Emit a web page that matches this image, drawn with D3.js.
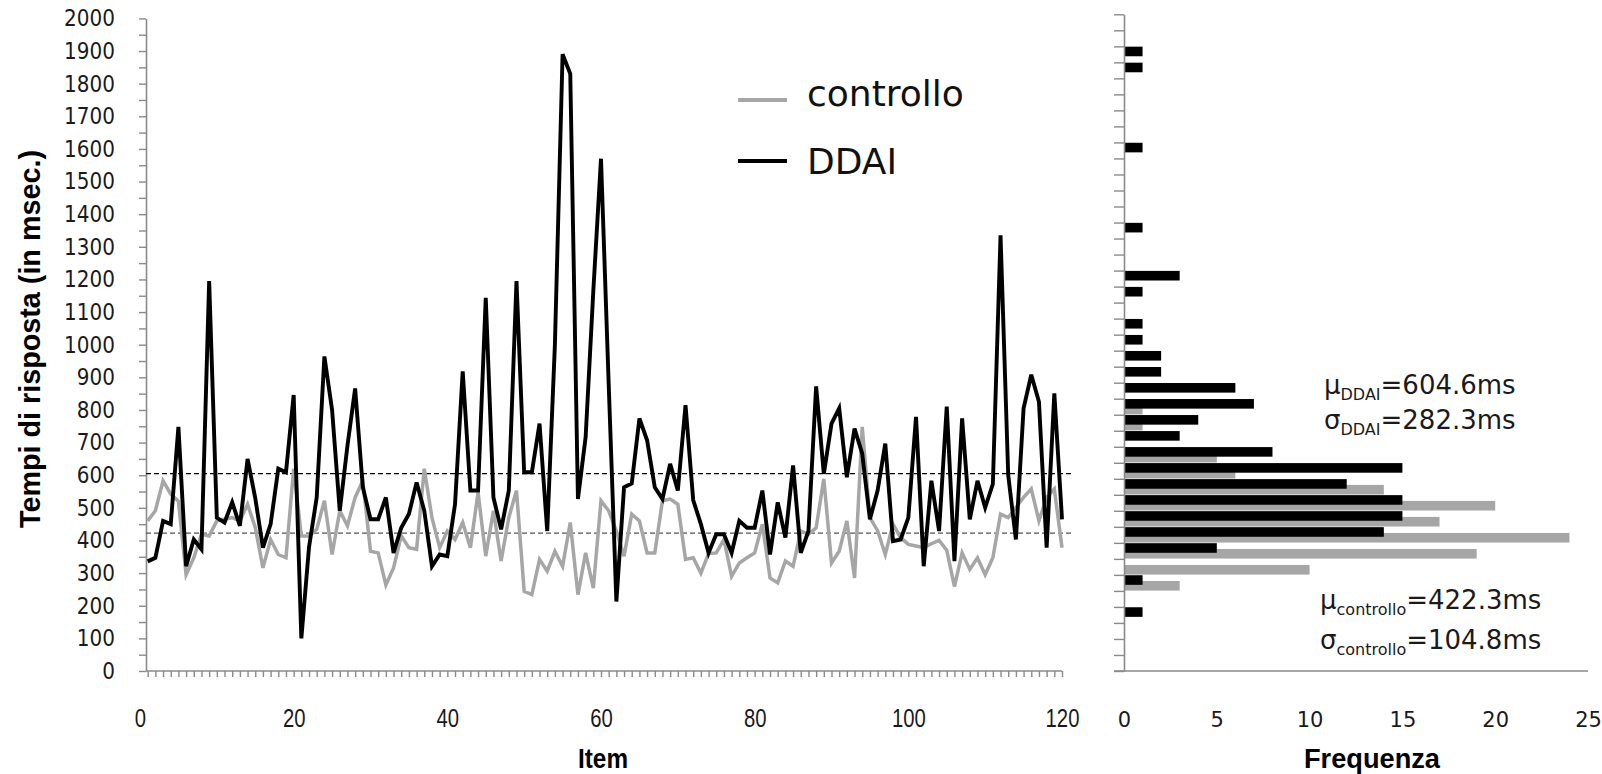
<!DOCTYPE html>
<html>
<head>
<meta charset="utf-8">
<script src="https://cdn.jsdelivr.net/npm/d3@7"></script>
<style>
body { margin: 0; background: #fff; }
svg { display: block; }
</style>
</head>
<body>
<svg width="1602" height="774"></svg>
<script>
// response times per item (ms)
var ddai = [336, 347, 460, 450, 748, 321, 403, 373, 1195, 470,
    455, 517, 445, 650, 530, 378, 450, 620, 609, 846,
    100, 380, 532, 964, 800, 491, 690, 866, 563, 465,
    465, 532, 362, 439, 481, 578, 491, 321, 357, 352,
    511, 918, 553, 553, 1144, 532, 434, 553, 1195, 609,
    609, 758, 429, 1000, 1890, 1830, 527, 717, 1165, 1570,
    880, 213, 563, 575, 774, 707, 563, 527, 635, 553,
    815, 524, 450, 362, 419, 419, 362, 460, 439, 439,
    553, 357, 517, 409, 630, 362, 429, 872, 604, 758,
    805, 594, 743, 666, 465, 553, 697, 398, 403, 470,
    779, 321, 583, 429, 810, 337, 774, 465, 583, 501,
    573, 1335, 600, 403, 805, 908, 825, 378, 851, 465];

var controllo = [460, 491, 583, 542, 520, 295, 347, 419, 414, 460,
    465, 470, 460, 511, 440, 316, 403, 357, 347, 620,
    414, 414, 434, 522, 357, 491, 445, 532, 583, 367,
    362, 264, 316, 414, 378, 373, 620, 470, 378, 429,
    403, 455, 378, 547, 352, 491, 337, 470, 553, 244,
    234, 342, 306, 367, 321, 455, 234, 362, 254, 522,
    491, 429, 352, 481, 460, 362, 362, 522, 527, 511,
    342, 347, 300, 360, 362, 403, 290, 331, 347, 362,
    450, 285, 270, 337, 321, 429, 419, 439, 589, 331,
    367, 460, 285, 748, 470, 430, 357, 450, 409, 388,
    383, 378, 390, 400, 370, 259, 362, 311, 347, 295,
    347, 481, 470, 501, 532, 558, 460, 532, 558, 378];

var itemLabels = [0, 20, 40, 60, 80, 100, 120];
var meanDDAI = 604.6, sdDDAI = 282.3;
var meanControllo = 422.3, sdControllo = 104.8;

// histogram (bin lower bound in ms, frequency)
var histBins = [150, 250, 300, 350, 400, 450, 500, 550, 600, 650, 700, 750,
    800, 850, 900, 950, 1000, 1050, 1150, 1200, 1350, 1600, 1850, 1900];
var histDDAI = [1, 1, 0, 5, 14, 15, 15, 12, 15, 8, 3, 4,
    7, 6, 2, 2, 1, 1, 1, 3, 1, 1, 1, 1];
var histControllo = [0, 3, 10, 19, 24, 17, 20, 14, 6, 5, 0, 1,
    1, 0, 0, 0, 0, 0, 0, 0, 0, 0, 0, 0];
var freqLabels = [0, 5, 10, 15, 20, 25];

var axisColor = "#8a8a8a";
var grey = "#a6a6a6";

var svg = d3.select("svg");

var x = d3.scaleLinear().domain([0, 120]).range([140, 1062]);
var y = d3.scaleLinear().domain([0, 2000]).range([671, 18.4]);

function styleAxis(g) {
    g.select(".domain").attr("stroke", axisColor).attr("stroke-width", 1.6);
    g.selectAll(".tick line").attr("stroke", axisColor).attr("stroke-width", 1.4);
    g.selectAll("text").attr("fill", "#1a1a1a");
}

// left y axis
var gy = svg.append("g")
    .attr("transform", "translate(146,0)")
    .call(d3.axisLeft(y)
        .tickValues(d3.range(0, 2001, 50))
        .tickSize(7)
        .tickSizeOuter(0)
        .tickFormat(function (d) { return d % 100 ? "" : d; }))
    .call(styleAxis);
gy.selectAll("text")
    .attr("x", -31)
    .attr("font-family", "DejaVu Sans")
    .attr("font-size", 20)
    .attr("transform", "scale(1,1.15)");

// x axis: one tick per item
var gx = svg.append("g")
    .attr("transform", "translate(0,671)")
    .call(d3.axisBottom(x)
        .tickValues(d3.range(1, 121))
        .tickSize(6)
        .tickSizeOuter(0)
        .tickFormat(""))
    .call(styleAxis);
gx.select(".domain").remove();
gx.append("line")
    .attr("x1", 146).attr("x2", x(120))
    .attr("stroke", axisColor).attr("stroke-width", 1.6);

var gxl = svg.append("g")
    .attr("transform", "translate(0,671)")
    .call(d3.axisBottom(x).tickValues(itemLabels).tickSize(0));
gxl.select(".domain").remove();
gxl.selectAll("text")
    .attr("y", 56)
    .attr("dy", null)
    .attr("fill", "#1a1a1a")
    .attr("font-family", "Liberation Sans")
    .attr("font-size", 26)
    .attr("transform", "scale(0.78,1)");

// mean lines
svg.append("line")
    .attr("x1", 146).attr("x2", x(121.3))
    .attr("y1", y(meanDDAI)).attr("y2", y(meanDDAI))
    .attr("stroke", "#000").attr("stroke-width", 1.3)
    .attr("stroke-dasharray", "5,3");
svg.append("line")
    .attr("x1", 146).attr("x2", x(121.3))
    .attr("y1", y(meanControllo)).attr("y2", y(meanControllo))
    .attr("stroke", "#555").attr("stroke-width", 1.3)
    .attr("stroke-dasharray", "5,3");

var line = d3.line()
    .x(function (d, i) { return x(i + 1); })
    .y(function (d) { return y(d); });

svg.append("path")
    .datum(controllo)
    .attr("d", line)
    .attr("fill", "none")
    .attr("stroke", grey)
    .attr("stroke-width", 3.5);

svg.append("path")
    .datum(ddai)
    .attr("d", line)
    .attr("fill", "none")
    .attr("stroke", "#000")
    .attr("stroke-width", 3.9);

// legend
var legend = [
    {name: "controllo", color: grey, ly: 100, ty: 106},
    {name: "DDAI", color: "#000", ly: 161, ty: 174}
];
legend.forEach(function (l) {
    svg.append("line")
        .attr("x1", 738).attr("x2", 787)
        .attr("y1", l.ly).attr("y2", l.ly)
        .attr("stroke", l.color).attr("stroke-width", 3.8);
    svg.append("text")
        .attr("x", 807).attr("y", l.ty)
        .attr("font-family", "DejaVu Sans")
        .attr("font-size", 36)
        .attr("fill", "#111")
        .text(l.name);
});

// axis titles
svg.append("text")
    .attr("transform", "translate(40,339) rotate(-90)")
    .attr("text-anchor", "middle")
    .attr("font-family", "Liberation Sans")
    .attr("font-weight", "bold")
    .attr("font-size", 29)
    .attr("textLength", 378)
    .attr("lengthAdjust", "spacingAndGlyphs")
    .text("Tempi di risposta (in msec.)");

svg.append("text")
    .attr("x", 603).attr("y", 768)
    .attr("text-anchor", "middle")
    .attr("font-family", "Liberation Sans")
    .attr("font-weight", "bold")
    .attr("font-size", 28)
    .attr("textLength", 50)
    .attr("lengthAdjust", "spacingAndGlyphs")
    .text("Item");

// ---- histogram ----
var hx = d3.scaleLinear().domain([0, 25]).range([1124, 1588]);
var hy = d3.scaleBand().domain(d3.range(0, 2050, 50)).range([671, 14.3]).padding(0);
var hyTicks = d3.scaleLinear().domain([0, 2050]).range([671, 14.3]);
var bw = hy.bandwidth();

var hist = histBins.map(function (b, i) {
    return {bin: b, ddai: histDDAI[i], controllo: histControllo[i]};
});

svg.append("g").selectAll("rect")
    .data(hist.filter(function (d) { return d.controllo > 0; }))
    .enter().append("rect")
    .attr("x", hx(0))
    .attr("y", function (d) { return hy(d.bin) + bw * 0.38; })
    .attr("width", function (d) { return hx(d.controllo) - hx(0); })
    .attr("height", bw * 0.6)
    .attr("fill", grey);

svg.append("g").selectAll("rect")
    .data(hist.filter(function (d) { return d.ddai > 0; }))
    .enter().append("rect")
    .attr("x", hx(0))
    .attr("y", function (d) { return hy(d.bin) + bw * 0.02; })
    .attr("width", function (d) { return hx(d.ddai) - hx(0); })
    .attr("height", bw * 0.6)
    .attr("fill", "#000");

svg.append("g")
    .attr("transform", "translate(1124,0)")
    .call(d3.axisLeft(hyTicks)
        .tickValues(d3.range(0, 2051, 50))
        .tickSize(10)
        .tickSizeOuter(0)
        .tickFormat(""))
    .call(styleAxis);

var ghx = svg.append("g")
    .attr("transform", "translate(0,671)")
    .call(d3.axisBottom(hx).tickValues(freqLabels).tickSize(0));
ghx.select(".domain").remove();
ghx.append("line")
    .attr("x1", 1114).attr("x2", hx(25))
    .attr("stroke", axisColor).attr("stroke-width", 1.6);
ghx.selectAll("text")
    .attr("y", 56)
    .attr("dy", null)
    .attr("fill", "#1a1a1a")
    .attr("font-family", "DejaVu Sans")
    .attr("font-size", 21);

svg.append("text")
    .attr("x", 1372).attr("y", 768)
    .attr("text-anchor", "middle")
    .attr("font-family", "Liberation Sans")
    .attr("font-weight", "bold")
    .attr("font-size", 28)
    .attr("textLength", 136)
    .attr("lengthAdjust", "spacingAndGlyphs")
    .text("Frequenza");

// mean / sd annotations
function stat(px, py, sym, sub, val) {
    var t = svg.append("text")
        .attr("x", px).attr("y", py)
        .attr("font-family", "DejaVu Sans")
        .attr("font-size", 26)
        .attr("fill", "#1a1a1a");
    t.append("tspan").text(sym);
    t.append("tspan").attr("font-size", 16).attr("dy", 6).text(sub);
    t.append("tspan").attr("dy", -6).text("=" + val.toFixed(1) + "ms");
}
stat(1324, 394, "\u03bc", "DDAI", meanDDAI);
stat(1324, 429, "\u03c3", "DDAI", sdDDAI);
stat(1320, 609, "\u03bc", "controllo", meanControllo);
stat(1320, 649, "\u03c3", "controllo", sdControllo);
</script>
</body>
</html>
